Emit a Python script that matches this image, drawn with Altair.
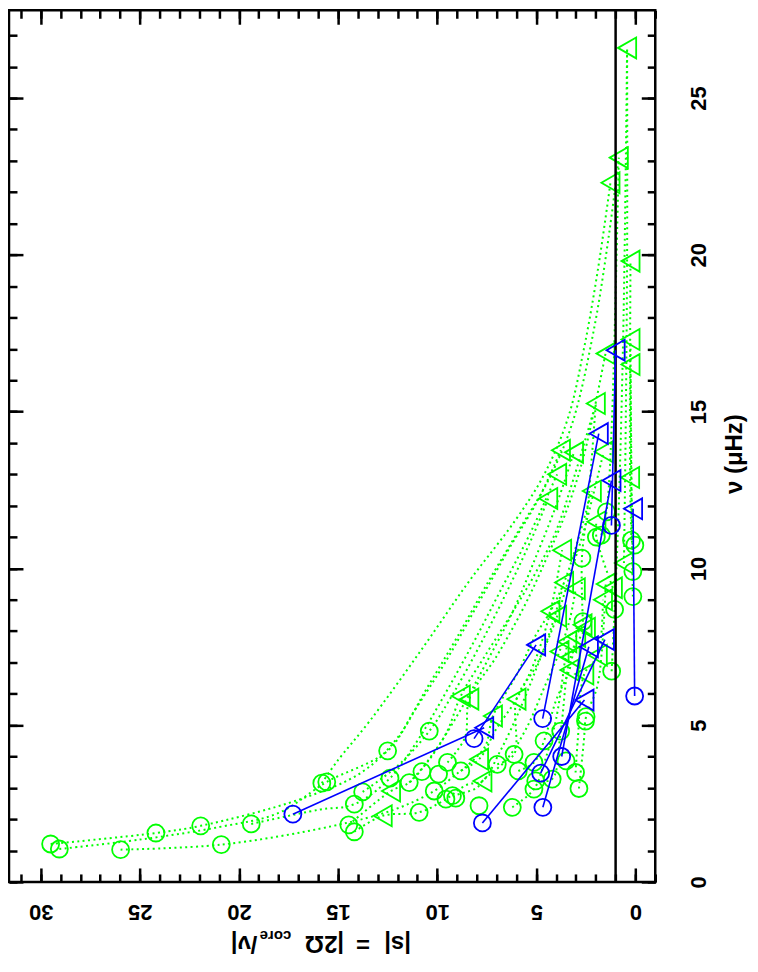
import altair as alt
import pandas as pd

# ---------------- data ----------------
# green circles (|s|, nu)
gc_s = [29.5, 29.06, 25.97, 24.19, 21.93, 20.89, 19.38, 15.82, 15.57, 13.76, 14.18, 14.46, 14.18,
        12.5, 12.38, 10.4, 11.41, 10.77, 10.91, 9.93, 9.48, 8.81, 10.15, 9.56, 9.23, 9.06,
        6.97, 6.12, 5.91, 5.12, 4.61, 5.03, 5.12, 4.2, 3.02, 2.85, 2.52, 3.77, 7.89, 6.21, 3.5,
        0.13, 0.13, 0.2, 0.03, 1.46, 1.97, 1.72, 2.7, 1.05, 2.65, 1.2, 2.49]
gc_nu = [1.21, 1.05, 1.03, 1.56, 1.79, 1.19, 1.85, 3.15, 3.19, 2.87, 2.48, 1.82, 1.60,
         4.18, 3.31, 4.81, 3.17, 3.52, 2.22, 3.44, 3.81, 3.54, 2.90, 2.64, 2.75, 2.67,
         3.75, 4.07, 3.54, 3.81, 4.5, 3.22, 2.96, 3.28, 3.49, 2.98, 5.13, 4.81, 2.43, 2.38, 3.86,
         9.9, 9.1, 10.9, 10.74, 11.8, 11.0, 11.06, 10.33, 8.69, 8.3, 6.72, 5.27]

# green triangles (|s|, nu)
gt_s = [0.42, 0.84, 1.26, 0.25, 0.25, 1.51, 0.25, 2.0, 3.76, 3.1, 1.6, 3.95, 4.4, 2.2, 0.27,
        1.97, 3.7, 0.58, 3.6, 3.01, 1.5, 1.14, 1.64, 4.29, 3.95, 2.67, 2.5, 3.44, 2.99, 3.27,
        1.9, 3.83, 2.58, 3.33, 8.38, 6.0, 7.19, 8.81, 7.89, 7.72, 12.33, 12.75]
gt_nu = [26.6, 23.1, 22.3, 19.8, 17.3, 16.85, 16.5, 15.26, 13.77, 13.7, 13.72, 13.0, 12.23, 12.47, 12.9,
         11.49, 10.58, 10.17, 9.55, 9.35, 9.5, 9.38, 9.0, 8.63, 8.47, 8.2, 8.09, 7.66, 7.83, 7.17,
         7.23, 7.35, 6.63, 6.76, 5.83, 5.83, 5.29, 5.93, 3.91, 3.22, 2.9, 2.11]

# blue stars: circle -> triangle, pair i
bc_s = [17.28, 8.14, 0.04, 4.68, 1.21, 7.72, 4.67, 3.72, 4.78]
bc_nu = [2.16, 4.57, 5.93, 5.21, 11.37, 1.88, 2.38, 4.0, 3.47]
bt_s = [7.63, 5.01, 0.12, 1.85, 1.0, 2.57, 2.35, 1.21, 1.54]
bt_nu = [4.92, 7.56, 11.9, 14.3, 16.96, 5.8, 7.5, 12.8, 7.73]

# green dotted tracks: points read along each track (|s|, nu)
tracks = {
    1: [(15.82, 3.15), (15.08, 3.82), (13.37, 5.16), (10.8, 7.4), (8.39, 9.59), (6.04, 11.55), (4.6, 13.0), (3.4, 14.8), (2.6, 17.0), (1.9, 19.5), (1.26, 22.3)],
    2: [(29.5, 1.21), (24.19, 1.56), (21.93, 1.79), (16.9, 2.64), (13.8, 3.5), (12.0, 4.6), (10.5, 6.2), (9.0, 7.8), (7.4, 9.6), (5.8, 11.3), (4.4, 12.8), (3.2, 14.6), (2.1, 17.6), (1.3, 20.8), (0.84, 23.1)],
    3: [(29.06, 1.05), (25.0, 1.35), (21.0, 1.75), (18.0, 2.2), (15.57, 3.19), (12.5, 4.18), (11.16, 5.45), (9.6, 7.0), (8.0, 8.8), (6.4, 10.6), (4.9, 12.2), (3.76, 13.77)],
    4: [(19.38, 1.85), (16.0, 2.3), (14.18, 2.48), (12.38, 3.31), (10.9, 4.6), (9.6, 6.0), (8.2, 7.6), (6.8, 9.3), (5.4, 11.0), (3.95, 13.0)],
    5: [(13.76, 2.87), (12.0, 3.7), (10.4, 4.81), (9.2, 6.0), (7.8, 7.6), (6.3, 9.5), (5.2, 11.0), (4.4, 12.23)],
    6: [(14.46, 1.82), (12.33, 2.9), (11.41, 3.17), (10.2, 4.1), (8.9, 5.4), (7.6, 6.9), (6.2, 8.6), (5.0, 10.4), (4.0, 12.0), (3.1, 13.7)],
    7: [(25.97, 1.03), (20.89, 1.19), (15.3, 1.78), (12.2, 2.3), (10.15, 2.9), (8.81, 3.54), (7.89, 3.91), (7.0, 4.9), (6.0, 5.83), (5.1, 7.0), (4.29, 8.63), (3.7, 10.58)],
    8: [(14.18, 1.60), (12.75, 2.11), (10.91, 2.22), (9.56, 2.64), (8.5, 3.1), (7.72, 3.22), (6.8, 4.2), (5.9, 5.4), (5.0, 6.8), (4.3, 8.0), (3.6, 9.55)],
    9: [(11.41, 3.17), (10.4, 3.9), (9.5, 4.8), (8.81, 5.93), (7.5, 7.3), (6.2, 8.6), (5.0, 9.9), (4.0, 11.2), (3.1, 12.9), (2.0, 15.26)],
    10: [(9.48, 3.81), (8.6, 4.6), (8.38, 5.83), (7.0, 7.2), (5.6, 8.8), (4.5, 10.3), (3.5, 11.8), (2.6, 13.6), (1.51, 16.85)],
    11: [(8.81, 3.54), (7.6, 4.3), (7.19, 5.29), (6.0, 6.6), (5.0, 7.9), (4.29, 8.63), (3.6, 9.55), (2.9, 10.9), (2.2, 12.47)],
    12: [(6.97, 3.75), (6.12, 4.07), (6.0, 5.83), (5.0, 6.9), (3.95, 8.47), (3.3, 9.8), (2.6, 11.2), (1.6, 13.72)],
    13: [(9.23, 2.75), (8.0, 3.0), (7.72, 3.22), (6.5, 3.9), (5.5, 4.9), (4.6, 6.2), (3.83, 7.35), (3.3, 8.4), (3.01, 9.35)],
    14: [(6.21, 2.38), (5.12, 2.96), (4.6, 3.8), (4.0, 5.2), (3.44, 7.66)],
    15: [(5.91, 3.54), (5.12, 3.81), (4.61, 4.5), (4.0, 5.8), (3.33, 6.76), (2.99, 7.83), (2.67, 8.2)],
    16: [(5.03, 3.22), (4.2, 3.28), (3.77, 4.81), (3.27, 7.17), (2.5, 8.09)],
    17: [(3.02, 3.49), (2.9, 4.6), (2.58, 6.63), (1.9, 7.23), (1.64, 9.0)],
    18: [(2.85, 2.98), (2.6, 4.5), (2.49, 5.27), (1.9, 6.3), (1.5, 9.5)],
    19: [(1.2, 6.72), (1.05, 8.69), (0.84, 12.0), (0.6, 18.0), (0.42, 26.6)],
    20: [(2.65, 8.3), (2.7, 10.33), (2.4, 12.0), (2.0, 15.26)],
    21: [(1.72, 11.06), (1.46, 11.8), (1.2, 14.5), (0.84, 23.1)],
    22: [(0.58, 10.17), (0.5, 14.0), (0.42, 20.0), (0.42, 26.6)],
    23: [(0.13, 9.1), (0.2, 12.0), (0.25, 16.5)],
    24: [(0.13, 9.9), (0.2, 13.0), (0.25, 17.3)],
    25: [(0.2, 10.9), (0.27, 12.9), (0.25, 19.8)],
    26: [(1.97, 11.0), (1.97, 11.49), (1.14, 9.38)],
}
track_id, track_s, track_nu = [], [], []
for k, pts in tracks.items():
    for s_, n_ in pts:
        track_id.append(k)
        track_s.append(s_)
        track_nu.append(n_)

s_major = [0, 5, 10, 15, 20, 25, 30]
s_minor = list(range(-1, 32))
nu_major = [0, 5, 10, 15, 20, 25]
nu_minor = list(range(0, 28))
unit_line = [1]

# ---------------- tables ----------------
markers = pd.DataFrame({
    "s": gc_s + gt_s + bc_s + bt_s,
    "nu": gc_nu + gt_nu + bc_nu + bt_nu,
    "kind": ["circle"] * len(gc_s) + ["triangle"] * len(gt_s) + ["circle"] * len(bc_s) + ["triangle"] * len(bt_s),
    "grp": ["g"] * (len(gc_s) + len(gt_s)) + ["b"] * (len(bc_s) + len(bt_s)),
})
green_tracks = pd.DataFrame({"tid": track_id, "s": track_s, "nu": track_nu})
blue_rows = []
for i in range(len(bc_s)):
    blue_rows.append({"pid": i, "step": 0, "s": bc_s[i], "nu": bc_nu[i]})
    blue_rows.append({"pid": i, "step": 1, "s": bt_s[i], "nu": bt_nu[i]})
blue = pd.DataFrame(blue_rows)

W, H = 648, 874
FONT = "Liberation Sans"
xs = alt.Scale(domain=[31.6, -1], nice=False, zero=False)
ys = alt.Scale(domain=[0, 27.8], nice=False, zero=False)

def ax(orient, values, size, labels=False, **kw):
    return alt.Axis(orient=orient, values=values, offset=-size, tickSize=size, tickWidth=2.5,
                    tickColor="black", domain=False, grid=False, labels=labels, title=None, **kw)

lab_common = dict(labelAlign="center", labelBaseline="middle", labelFontSize=22, labelFontWeight="bold",
                  labelFont=FONT, labelColor="black", labelFlush=False, labelOverlap=False)
lab_x = dict(labelAngle=180, labelPadding=30, **lab_common)
lab_y = dict(labelAngle=270, labelPadding=43, **lab_common)

base_m = alt.Chart(markers)

def axis_layer(xa, ya):
    return base_m.mark_point(opacity=0).encode(
        x=alt.X("s:Q", scale=xs, axis=xa),
        y=alt.Y("nu:Q", scale=ys, axis=ya),
    )

axes_major = axis_layer(ax("bottom", s_major, 14, True, **lab_x), ax("right", nu_major, 14, True, **lab_y))
axes_minor = axis_layer(ax("bottom", s_minor, 8), ax("right", nu_minor, 8))
axes_major2 = axis_layer(ax("top", s_major, 14), ax("left", nu_major, 14))
axes_minor2 = axis_layer(ax("top", s_minor, 8), ax("left", nu_minor, 8))

curves = alt.Chart(green_tracks).mark_line(
    color="#00ff00", strokeWidth=2, strokeDash=[2, 3.4], interpolate="catmull-rom"
).encode(
    x=alt.X("s:Q", scale=xs, axis=None),
    y=alt.Y("nu:Q", scale=ys, axis=None),
    detail="tid:N",
    order="nu:Q",
)

rule = alt.Chart(pd.DataFrame({"s": unit_line})).mark_rule(color="black", strokeWidth=2.5).encode(
    x=alt.X("s:Q", scale=xs, axis=None)
)

blue_lines = alt.Chart(blue).mark_line(color="#0000ff", strokeWidth=1.6).encode(
    x=alt.X("s:Q", scale=xs, axis=None),
    y=alt.Y("nu:Q", scale=ys, axis=None),
    detail="pid:N",
    order="step:Q",
)

def marker_layer(grp):
    return base_m.transform_filter(alt.datum.grp == grp).mark_point(filled=False, strokeWidth=1.8, opacity=1).encode(
        x=alt.X("s:Q", scale=xs, axis=None),
        y=alt.Y("nu:Q", scale=ys, axis=None),
        shape=alt.Shape("kind:N", scale=alt.Scale(domain=["circle", "triangle"], range=["circle", "triangle-left"]), legend=None),
        size=alt.Size("kind:N", scale=alt.Scale(domain=["circle", "triangle"], range=[290, 440]), legend=None),
        color=alt.Color("grp:N", scale=alt.Scale(domain=["g", "b"], range=["#00ff00", "#0000ff"]), legend=None),
    )

def txt(text, x, y, size, angle, align="left", baseline="middle"):
    return alt.Chart(pd.DataFrame({"t": [text]})).mark_text(
        font=FONT, fontSize=size, fontWeight="bold", angle=angle, align=align, baseline=baseline, color="black"
    ).encode(text="t:N", x=alt.value(x), y=alt.value(y))

TY = 935
title_x = (txt("|s|", 403, TY, 24, 180)
           + txt("=", 355, TY, 24, 180, align="center")
           + txt("|2Ω", 336, TY, 24, 180)
           + txt("core", 283, TY - 7, 15, 180)
           + txt("/ν|", 249, TY, 24, 180))
title_y = txt("ν (μHz)", 728, 445, 24, 270, align="center")

chart = alt.layer(
    axes_minor, axes_minor2, axes_major2, axes_major,
    curves, marker_layer("g"), rule, blue_lines, marker_layer("b"),
    title_x, title_y,
).resolve_axis(x="independent", y="independent").properties(
    width=W, height=H,
    autosize=alt.AutoSizeParams(type="none"),
    padding={"left": 1, "top": 1, "right": 95, "bottom": 77},
).configure_view(stroke="black", strokeWidth=2.5)

chart.save("out.html", embed_options={"renderer": "svg", "actions": False})
